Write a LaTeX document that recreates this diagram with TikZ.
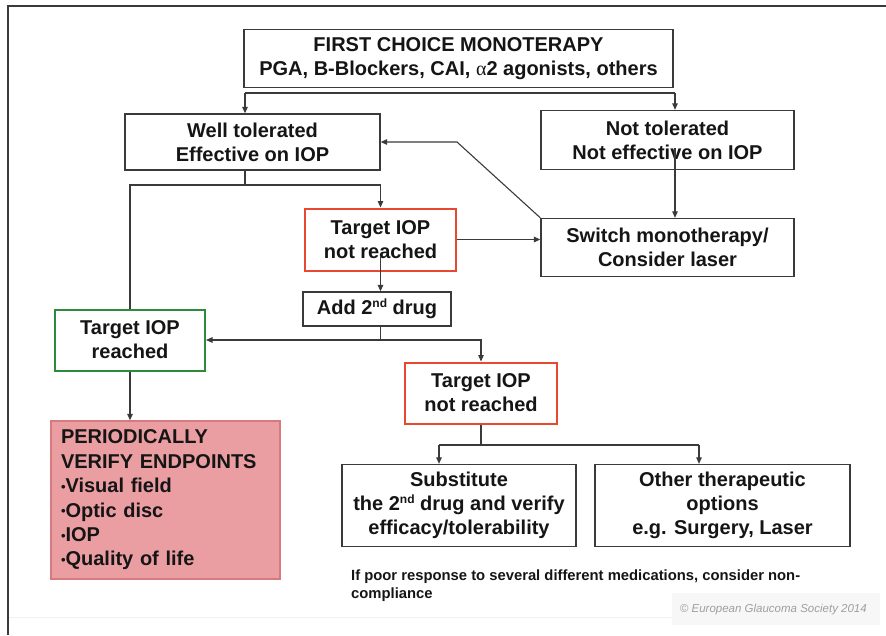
\documentclass[tikz,border=0pt]{standalone}
\usepackage{fontspec}
\setmainfont{Liberation Sans}
\newfontfamily\serifalpha{Liberation Serif}
\usetikzlibrary{arrows.meta}
\definecolor{ln}{HTML}{3A3A3A}
\definecolor{txt}{HTML}{151515}
\definecolor{redc}{HTML}{E8482F}
\definecolor{greenc}{HTML}{2E8B3C}
\definecolor{pinkfill}{HTML}{EB9EA2}
\definecolor{pinkdraw}{HTML}{D57A7F}
\newcommand{\supnd}{\raisebox{7.5pt}{\fontsize{12}{12}\selectfont nd}}
\newcommand{\bul}{\raisebox{1.5pt}{\fontsize{13}{13}\selectfont •}}
\begin{document}
\begin{tikzpicture}[x=1pt,y=-1pt,
  box/.style={draw=ln, line width=1.3pt, fill=white, text=txt,
    font=\bfseries\fontsize{20}{24}\selectfont, align=center, inner sep=0pt},
  redbox/.style={box, draw=redc, line width=2pt},
  greenbox/.style={box, draw=greenc, line width=2pt},
  conn/.style={draw=ln, line width=1.1pt},
  arr/.style={conn, -{Triangle[length=6.5pt,width=5.5pt]}}]
\useasboundingbox (0,0) rectangle (886,635);
% frame
\fill[gray!6] (672,593) rectangle (880,625);
\draw[gray!12, line width=0.8pt] (8,617) -- (672,617);
\draw[ln, line width=1.5pt] (8,635) -- (8,6) -- (886,6);

% nodes
\node[box, minimum width=429, minimum height=58] (first) at (458.5,58.5)
  {FIRST CHOICE MONOTERAPY\\PGA, B-Blockers, CAI, {\serifalpha\mdseries α}2 agonists, others};
\node[box, minimum width=255, minimum height=56] (well) at (252.5,142)
  {Well tolerated\\Effective on IOP};
\node[box, minimum width=253, minimum height=59] (nottol) at (667.5,140)
  {Not tolerated\\Not effective on IOP};
\node[redbox, minimum width=151, minimum height=62] (red1) at (380.5,239.5)
  {Target IOP\\not reached};
\node[box, minimum width=253, minimum height=58] (switch) at (667.5,247.5)
  {Switch monotherapy/\\Consider laser};
\node[box, minimum width=148, minimum height=34] (add2) at (377,309)
  {Add 2\supnd{} drug};
\node[greenbox, minimum width=150, minimum height=61] (green) at (130,340)
  {Target IOP\\reached};
\node[redbox, minimum width=152, minimum height=61] (red2) at (481,393)
  {Target IOP\\not reached};
\node[box, draw=pinkdraw, fill=pinkfill, line width=1.3pt, minimum width=229, minimum height=158,
  align=left, text width=209, inner xsep=10pt, font=\bfseries\fontsize{20}{24.4}\selectfont] (pink) at (165.5,500)
  {PERIODICALLY\\VERIFY ENDPOINTS\\\bul Visual field\\\bul Optic disc\\\bul IOP\\\bul Quality of life};
\node[box, minimum width=234, minimum height=82] (subst) at (459,505.5)
  {Substitute\\the 2\supnd{} drug and verify\\efficacy/tolerability};
\node[box, minimum width=255, minimum height=82] (other) at (722.5,505.5)
  {Other therapeutic\\options\\e.g. Surgery, Laser};
\node[anchor=north west, align=left, inner sep=0pt, text=txt,
  font=\bfseries\fontsize{14.8}{17.5}\selectfont] (note) at (351,570)
  {If poor response to several different medications, consider non-\\compliance};
\node[anchor=east, inner sep=0pt, text=gray!75,
  font=\itshape\fontsize{11.5}{13}\selectfont] (copy) at (867,610)
  {© European Glaucoma Society 2014};

% connectors
\coordinate (t1) at (245,93);
\coordinate (t2) at (675,93);
\draw[conn] (t1) -- (t2);
\draw[arr] (t1) -- (t1 |- well.north);
\draw[arr] (t2) -- (t2 |- nottol.north);

\coordinate (w1) at (245,185);
\coordinate (w2) at (380.5,185);
\draw[conn] (well.south -| w1) -- (w1);
\draw[arr] (green.north) |- (w2) -- (red1.north);

\coordinate (d1) at (457,142);
\draw[arr] (switch.north west) -- (d1) -- (well.east);

\draw[arr] (red1.east) -- (red1.east -| switch.west);

\coordinate (n1) at (675,148);
\draw[arr] (n1) -- (n1 |- switch.north);

\coordinate (r1) at (380.5,257);
\draw[arr] (r1) -- (r1 |- add2.north);

\coordinate (a2) at (380.5,340);
\draw[conn] (add2.south -| a2) -- (a2);
\draw[arr] (a2) -- (green.east);
\draw[arr] (a2) -| (red2.north);

\draw[arr] (green.south) -- (green.south |- pink.north);

\coordinate (s1) at (439,445);
\coordinate (s2) at (699,445);
\draw[conn] (red2.south) -- (red2.south |- s1);
\draw[conn] (s1) -- (s2);
\draw[arr] (s1) -- (s1 |- subst.north);
\draw[arr] (s2) -- (s2 |- other.north);
\end{tikzpicture}
\end{document}
